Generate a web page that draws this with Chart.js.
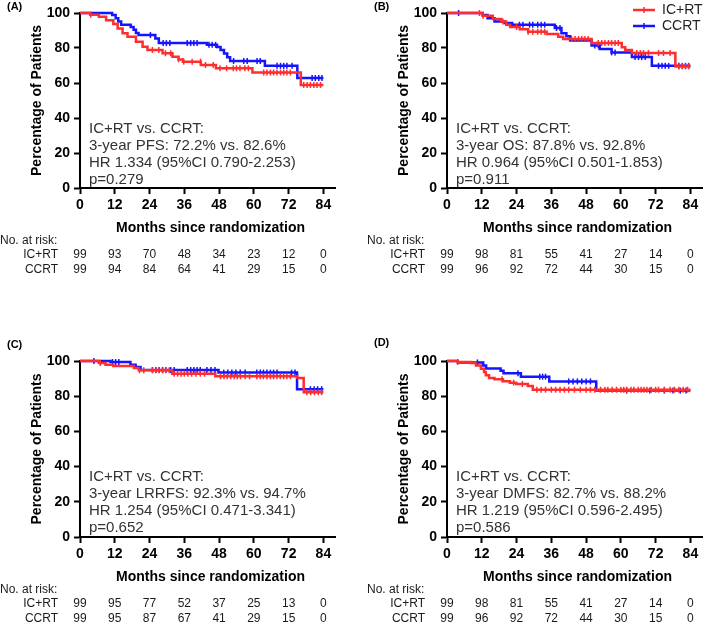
<!DOCTYPE html>
<html>
<head>
<meta charset="utf-8">
<script src="https://cdn.jsdelivr.net/npm/chart.js@4.4.1/dist/chart.umd.min.js"></script>
<style>
  html, body { margin: 0; padding: 0; background: #fff; }
  #wrap { position: relative; width: 709px; height: 624px; overflow: hidden; }
  canvas { position: absolute; }
</style>
</head>
<body>
<div id="wrap">
  <canvas id="pA" width="354" height="290" style="left:0;top:0"></canvas>
  <canvas id="pB" width="342" height="290" style="left:367px;top:0"></canvas>
  <canvas id="pC" width="354" height="296" style="left:0;top:328px"></canvas>
  <canvas id="pD" width="342" height="296" style="left:367px;top:328px"></canvas>
</div>
<script>
const FONT = "'Liberation Sans', Arial, sans-serif";
const RED = "#ff2d2d";
const BLUE = "#1414ff";

// x axis ticks / risk table columns (months)
const months = [0, 12, 24, 36, 48, 60, 72, 84];

// (A) PFS
const pfsIcrtTime = [0, 3.5, 6.5, 9, 11.5, 13, 14.7, 16.4, 19.3, 21.6, 23.3, 28.5, 31.9, 34, 35.5, 41.7, 46.9, 59.5, 76.2, 84];
const pfsIcrtSurv = [100, 99, 97.9, 95.8, 93.7, 91.2, 88.4, 86.5, 83.6, 80.7, 78.9, 77, 75, 73.5, 72.2, 70.3, 68.4, 66, 58.9, 58.9];
const pfsCcrtTime = [0, 11.1, 12.3, 13.2, 14.2, 17.5, 18.5, 19.3, 20.2, 26, 27.2, 43.8, 47.3, 48.5, 49.7, 50.8, 51.8, 63.8, 75, 84];
const pfsCcrtSurv = [100, 98.9, 97, 95.2, 93.3, 92, 90.5, 88.6, 87.4, 85.5, 82.8, 81.8, 80.6, 78.8, 76.8, 74.7, 72.6, 69.8, 62.8, 62.8];
const pfsIcrtCensor = [3.7, 25, 27.2, 29.5, 31.3, 34, 35.8, 38.7, 41.6, 43.3, 46, 48.3, 50.6, 52.9, 54, 55.2, 56.9, 58.1, 63.4, 64.5, 65.7, 66.8, 68, 69.2, 70.3, 71.4, 72.6, 77.2, 78.4, 79.5, 80.7, 81.8, 83];
const pfsCcrtCensor = [24.3, 28.7, 29.8, 31, 37, 38.2, 39.3, 40.4, 44.5, 45.6, 46.8, 53, 56.5, 57.7, 61.1, 62.2, 68, 69.2, 70.3, 71.4, 73.2, 80.1, 81.2, 82.4, 83.5];
const pfsIcrtRisk = [99, 93, 70, 48, 34, 23, 12, 0];
const pfsCcrtRisk = [99, 94, 84, 64, 41, 29, 15, 0];
const pfsStats = ["IC+RT vs. CCRT:", "3-year PFS: 72.2% vs. 82.6%", "HR 1.334 (95%CI 0.790-2.253)", "p=0.279"];

// (B) OS
const osIcrtTime = [0, 12.3, 15.8, 18.7, 20.4, 21.8, 25.1, 28, 34.4, 38.4, 40.1, 49.9, 60.3, 61.5, 63.8, 78.8, 84];
const osIcrtSurv = [100, 98.5, 96.6, 95.2, 93.3, 92, 90.7, 89.3, 88, 86.5, 85.2, 82.9, 80.5, 78.8, 77.1, 69.5, 69.5];
const osCcrtTime = [0, 12.3, 14, 16.4, 19.9, 22.5, 37.2, 39.5, 41.2, 42.5, 49.9, 52.7, 56.8, 63.8, 70.7, 84];
const osCcrtSurv = [100, 98.9, 97, 95.2, 94.3, 93.3, 91.4, 88.5, 86.7, 84.3, 81.5, 79.5, 77.5, 74.8, 69.8, 69.8];
const osIcrtCensor = [11.2, 12.4, 19.3, 24, 28, 29.6, 31.3, 32.5, 33.7, 43, 44.2, 45.4, 46.5, 47.6, 48.7, 52.2, 53.4, 54.5, 55.7, 56.8, 58, 59.1, 65.5, 66.7, 67.8, 69.5, 73, 74.7, 77, 80, 81.2, 82.3, 83.4];
const osCcrtCensor = [4, 25, 26.2, 28.5, 29.6, 31.3, 32.5, 33.7, 37.8, 39, 51, 52.2, 56.8, 58, 64.9, 66.1, 67.2, 68.4, 73, 74.2, 75.3, 76.5, 80, 81.2, 82.3, 83.4];
const osIcrtRisk = [99, 98, 81, 55, 41, 27, 14, 0];
const osCcrtRisk = [99, 96, 92, 72, 44, 30, 15, 0];
const osStats = ["IC+RT vs. CCRT:", "3-year OS: 87.8% vs. 92.8%", "HR 0.964 (95%CI 0.501-1.853)", "p=0.911"];

// (C) LRRFS
const lrIcrtTime = [0, 6.5, 8.8, 11.5, 18.6, 20.3, 31.8, 46.7, 75, 77.2, 84];
const lrIcrtSurv = [100, 98.9, 97.9, 97.2, 96, 94.7, 92.8, 91.3, 90.3, 82.3, 82.3];
const lrCcrtTime = [0, 10.5, 17.4, 19.2, 20.9, 47.8, 74.9, 84];
const lrCcrtSurv = [100, 99.4, 97.9, 96.6, 94.9, 93.4, 84, 84];
const lrIcrtCensor = [7, 20.5, 22, 25, 26.2, 27.3, 28.5, 29.6, 30.8, 32.5, 33.7, 34.9, 36, 37.2, 38.5, 40, 41.5, 43, 48.5, 49.7, 50.8, 52, 53.2, 54.3, 55.4, 57, 58.5, 61, 62.2, 63.3, 64.5, 65.7, 66.8, 68, 69.1, 70.3, 71.4, 72.6, 78.3, 79.6, 80.9, 82.2, 83.4];
const lrCcrtCensor = [4.8, 11.2, 12.3, 13.4, 25, 26.2, 27.3, 28.5, 29.6, 31.3, 32.5, 37, 38.2, 39.3, 40.4, 41.5, 43.8, 45.2, 46.6, 49.6, 51, 52.4, 53.8, 55.3, 57, 61, 62.2, 63.3, 64.5, 65.7, 66.8, 68, 73, 74.2, 79.5, 80.8, 82, 83.4];
const lrIcrtRisk = [99, 95, 77, 52, 37, 25, 13, 0];
const lrCcrtRisk = [99, 95, 87, 67, 41, 29, 15, 0];
const lrStats = ["IC+RT vs. CCRT:", "3-year LRRFS: 92.3% vs. 94.7%", "HR 1.254 (95%CI 0.471-3.341)", "p=0.652"];

// (D) DMFS
const dmIcrtTime = [0, 3.7, 8.3, 10, 11.7, 12.8, 13.4, 14.5, 16.4, 19.3, 21.7, 23.9, 27.9, 29.6, 84];
const dmIcrtSurv = [100, 99.4, 98.9, 97.5, 95.6, 93.8, 91.9, 90.3, 89.6, 88.5, 87.7, 86.9, 85.8, 83.7, 83.7];
const dmCcrtTime = [0, 3.7, 12.5, 13.5, 18.5, 19.5, 25.5, 35.3, 51.5, 84];
const dmCcrtSurv = [100, 99.2, 97.5, 95.8, 94.5, 93, 91.1, 88.4, 83.2, 83.2];
const dmIcrtCensor = [3.7, 19, 23, 26, 31, 32.5, 34, 36, 37.5, 39, 40.5, 42, 44, 46, 48, 49.5, 51, 53, 54.5, 55.5, 57, 58.5, 60, 61, 62, 63.5, 64.5, 66, 67, 68, 69, 70.5, 72, 73, 75, 77, 78.5, 80, 81.5, 83];
const dmCcrtCensor = [10.5, 24.5, 32, 33, 34, 42, 43.5, 45, 46.5, 48, 49.5, 62, 70, 75, 78, 80.5, 82.5];
const dmIcrtRisk = [99, 98, 81, 55, 41, 27, 14, 0];
const dmCcrtRisk = [99, 96, 92, 72, 44, 30, 15, 0];
const dmStats = ["IC+RT vs. CCRT:", "3-year DMFS: 82.7% vs. 88.2%", "HR 1.219 (95%CI 0.596-2.495)", "p=0.586"];

Chart.defaults.font.family = FONT;

// value of a step curve at time t
function stepAt(times, surv, t) {
  let v = surv[0];
  for (let i = 0; i < times.length; i++) if (times[i] <= t) v = surv[i];
  return v;
}

// draws titles, stats text, risk table, legend, panel letter
const kmText = {
  id: "kmText",
  afterDraw(chart, args, o) {
    const { ctx, chartArea: a } = chart;
    const x = chart.scales.x;
    ctx.save();
    ctx.textBaseline = "middle";

    // panel letter
    ctx.fillStyle = "#000";
    ctx.font = "bold 11px " + FONT;
    ctx.textAlign = "left";
    ctx.fillText(o.letter, a.left - 73, o.letterY);

    // y title
    ctx.save();
    ctx.translate(a.left - 43, (a.top + a.bottom) / 2);
    ctx.rotate(-Math.PI / 2);
    ctx.font = "bold 14px " + FONT;
    ctx.textAlign = "center";
    ctx.fillText("Percentage of Patients", 0, 0);
    ctx.restore();

    // x title
    ctx.font = "bold 14px " + FONT;
    ctx.textAlign = "center";
    ctx.fillText("Months since randomization", (a.left + a.right) / 2 + 3, a.bottom + 40);

    // stats text
    ctx.fillStyle = "#333";
    ctx.font = "15px " + FONT;
    ctx.textAlign = "left";
    o.stats.forEach((s, i) => ctx.fillText(s, a.left + 9, a.top + 116 + i * 17));

    // risk table
    ctx.fillStyle = "#1a1a1a";
    ctx.font = "12px " + FONT;
    ctx.fillText("No. at risk:", 0, a.bottom + 53);
    ctx.textAlign = "right";
    ctx.fillText("IC+RT", a.left - 22, a.bottom + 67);
    ctx.fillText("CCRT", a.left - 22, a.bottom + 82);
    ctx.textAlign = "center";
    months.forEach((m, i) => {
      const px = x.getPixelForValue(m);
      ctx.fillText(String(o.icrtRisk[i]), px, a.bottom + 67);
      ctx.fillText(String(o.ccrtRisk[i]), px, a.bottom + 82);
    });

    // legend
    if (o.legend) {
      const items = [["IC+RT", RED, 10], ["CCRT", BLUE, 26]];
      items.forEach(([label, col, y]) => {
        const x0 = a.right - 69;
        ctx.strokeStyle = col;
        ctx.lineWidth = 2.5;
        ctx.beginPath();
        ctx.moveTo(x0, y);
        ctx.lineTo(x0 + 22, y);
        ctx.stroke();
        ctx.lineWidth = 1.5;
        ctx.beginPath();
        ctx.moveTo(x0 + 11, y - 3);
        ctx.lineTo(x0 + 11, y + 3);
        ctx.stroke();
        ctx.fillStyle = "#222";
        ctx.font = "14px " + FONT;
        ctx.textAlign = "left";
        ctx.fillText(label, x0 + 29, y);
      });
    }
    ctx.restore();
  },
};

function curve(times, surv) {
  return times.map((t, i) => ({ x: t, y: surv[i] }));
}
function censors(list, times, surv) {
  return list.map((t) => ({ x: t, y: stepAt(times, surv, t) }));
}

function makePanel(id, p) {
  const canvas = document.getElementById(id);
  const W = canvas.width;
  const H = canvas.height;
  const lineDs = (data, col) => ({
    data, borderColor: col, borderWidth: 2.5, pointRadius: 0, stepped: "before", fill: false, clip: false,
  });
  const tickDs = (data, col) => ({
    data, borderColor: col, backgroundColor: col, showLine: false, pointStyle: "line",
    pointRotation: 90, pointRadius: 3, pointBorderWidth: 1.5, clip: false,
  });
  return new Chart(canvas, {
    type: "line",
    plugins: [kmText],
    data: {
      // first dataset is drawn on top
      datasets: [
        tickDs(censors(p.icrtCensor, p.icrtTime, p.icrtSurv), RED),
        lineDs(curve(p.icrtTime, p.icrtSurv), RED),
        tickDs(censors(p.ccrtCensor, p.ccrtTime, p.ccrtSurv), BLUE),
        lineDs(curve(p.ccrtTime, p.ccrtSurv), BLUE),
      ],
    },
    options: {
      responsive: false,
      animation: false,
      events: [],
      layout: { padding: { top: p.padTop, right: W - 335, left: 0, bottom: 0 } },
      plugins: {
        legend: { display: false },
        tooltip: { enabled: false },
        kmText: p,
      },
      scales: {
        x: {
          type: "linear",
          min: 0,
          max: 88,
          afterBuildTicks: (s) => { s.ticks = months.map((v) => ({ value: v })); },
          afterFit: (s) => { s.height = H - p.bottomY; },
          border: { display: true, color: "#000", width: 2 },
          grid: { drawOnChartArea: false, tickLength: 6, tickWidth: 2, tickColor: "#000" },
          ticks: { color: "#000", font: { size: 14, weight: "bold" }, padding: 3, maxRotation: 0, autoSkip: false },
        },
        y: {
          min: 0,
          max: 100,
          afterFit: (s) => { s.width = 80; },
          border: { display: true, color: "#000", width: 2 },
          grid: { drawOnChartArea: false, tickLength: 6, tickWidth: 2, tickColor: "#000" },
          ticks: { stepSize: 20, color: "#000", font: { size: 14, weight: "bold" }, padding: 4 },
        },
      },
    },
  });
}

makePanel("pA", {
  letter: "(A)", letterY: 7, padTop: 13, bottomY: 188, legend: false,
  icrtTime: pfsIcrtTime, icrtSurv: pfsIcrtSurv, ccrtTime: pfsCcrtTime, ccrtSurv: pfsCcrtSurv,
  icrtCensor: pfsIcrtCensor, ccrtCensor: pfsCcrtCensor, icrtRisk: pfsIcrtRisk, ccrtRisk: pfsCcrtRisk, stats: pfsStats,
});
makePanel("pB", {
  letter: "(B)", letterY: 7, padTop: 13, bottomY: 188, legend: true,
  icrtTime: osIcrtTime, icrtSurv: osIcrtSurv, ccrtTime: osCcrtTime, ccrtSurv: osCcrtSurv,
  icrtCensor: osIcrtCensor, ccrtCensor: osCcrtCensor, icrtRisk: osIcrtRisk, ccrtRisk: osCcrtRisk, stats: osStats,
});
makePanel("pC", {
  letter: "(C)", letterY: 17, padTop: 33, bottomY: 209, legend: false,
  icrtTime: lrIcrtTime, icrtSurv: lrIcrtSurv, ccrtTime: lrCcrtTime, ccrtSurv: lrCcrtSurv,
  icrtCensor: lrIcrtCensor, ccrtCensor: lrCcrtCensor, icrtRisk: lrIcrtRisk, ccrtRisk: lrCcrtRisk, stats: lrStats,
});
makePanel("pD", {
  letter: "(D)", letterY: 15, padTop: 33, bottomY: 209, legend: false,
  icrtTime: dmIcrtTime, icrtSurv: dmIcrtSurv, ccrtTime: dmCcrtTime, ccrtSurv: dmCcrtSurv,
  icrtCensor: dmIcrtCensor, ccrtCensor: dmCcrtCensor, icrtRisk: dmIcrtRisk, ccrtRisk: dmCcrtRisk, stats: dmStats,
});
</script>
</body>
</html>
